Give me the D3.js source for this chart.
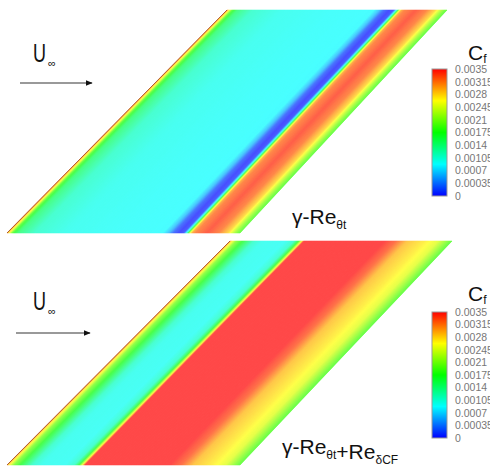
<!DOCTYPE html>
<html>
<head>
<meta charset="utf-8">
<script src="https://cdn.jsdelivr.net/npm/d3@7"></script>
<style>
  body { margin: 0; background: #fff; }
  svg { display: block; font-family: "Liberation Sans", Arial, sans-serif; }
</style>
</head>
<body>
<svg id="chart" width="490" height="466"></svg>
<script>
// colour legend
const cfTicks = [0.0035, 0.00315, 0.0028, 0.00245, 0.0021, 0.00175, 0.0014, 0.00105, 0.0007, 0.00035, 0];
const cfTickLabels = ["0.0035", "0.00315", "0.0028", "0.00245", "0.0021", "0.00175", "0.0014", "0.00105", "0.0007", "0.00035", "0"];
const mapStops = [0, 0.000875, 0.00175, 0.002625, 0.0035];
const mapColors = ["#0000ff", "#00ffff", "#00ff00", "#ffff00", "#ff0000"];

// Cf across the chord (0 = leading edge, 1 = trailing edge), gamma-Re_theta_t
const chordTop = [0, 0.01, 0.025, 0.05, 0.12, 0.25, 0.45, 0.67, 0.695, 0.715, 0.74, 0.76, 0.775, 0.785, 0.795, 0.81, 0.86, 0.91, 0.95, 0.98, 1];
const cfTop = [0.0032, 0.0027, 0.0019, 0.00145, 0.0011, 0.00095, 0.0009, 0.00087, 0.0006, 0.0002, 0.00002, 0.0001, 0.0012, 0.0024, 0.003, 0.0032, 0.0034, 0.0032, 0.0028, 0.0022, 0.0019];

// gamma-Re_theta_t + Re_deltaCF
const chordBottom = [0, 0.01, 0.03, 0.07, 0.11, 0.15, 0.25, 0.29, 0.31, 0.325, 0.335, 0.7, 0.75, 0.8, 0.88, 0.94, 1];
const cfBottom = [0.0032, 0.0027, 0.0021, 0.0016, 0.0011, 0.00095, 0.00092, 0.0011, 0.0017, 0.0026, 0.0035, 0.0035, 0.0033, 0.0029, 0.0027, 0.0025, 0.0019];

const svg = d3.select("#chart");

const colorMap = d3.scaleLinear().domain(mapStops).range(mapColors).clamp(true);
const surfaceColor = (cf) => d3.interpolateRgb(colorMap(cf), "#ffffff")(0.28);

const panels = [
  {
    chord: chordTop, cf: cfTop, gradId: "barTop",
    top: { y: 10, lead: 227, trail: 447 },
    bottom: { y: 233, lead: 7, trail: 240 },
    bar: { x: 432, top: 69, bottom: 196 },
    title: { x: 468, y: 60 },
    flow: { x: 33, y: 62, ax1: 20, ax2: 92, ay: 83 },
    label: { x: 292, y: 224, parts: [["γ-Re", false], ["θt", true]] },
  },
  {
    chord: chordBottom, cf: cfBottom, gradId: "barBottom",
    top: { y: 241, lead: 230, trail: 452 },
    bottom: { y: 465, lead: 7, trail: 240 },
    bar: { x: 432, top: 312, bottom: 438 },
    title: { x: 468, y: 301 },
    flow: { x: 33, y: 310, ax1: 16, ax2: 90, ay: 333 },
    label: { x: 282, y: 454, parts: [["γ-Re", false], ["θt", true], ["+Re", false], ["δCF", true]] },
  },
];

const defs = svg.append("defs");
defs.append("marker")
  .attr("id", "arrow")
  .attr("viewBox", "0 -5 10 10")
  .attr("refX", 9)
  .attr("refY", 0)
  .attr("markerWidth", 7)
  .attr("markerHeight", 7)
  .attr("markerUnits", "userSpaceOnUse")
  .attr("orient", "auto")
  .append("path")
  .attr("fill", "#111")
  .attr("d", "M0,-4L10,0L0,4Z");

panels.forEach(drawPanel);

function drawPanel(p) {
  const g = svg.append("g");
  const xTop = d3.scaleLinear().domain([0, 1]).range([p.top.lead, p.top.trail]);
  const xBot = d3.scaleLinear().domain([0, 1]).range([p.bottom.lead, p.bottom.trail]);
  const cfAt = d3.scaleLinear().domain(p.chord).range(p.cf);

  // thin strips across the chord, each shaded from the Cf profile
  const n = 400;
  const strips = d3.range(n).map((i) => ({ u0: i / n, u1: (i + 1) / n }));

  g.selectAll("path.strip")
    .data(strips)
    .join("path")
    .attr("class", "strip")
    .attr("d", (s) => `M${xTop(s.u0)},${p.top.y}L${xTop(s.u1)},${p.top.y}L${xBot(s.u1)},${p.bottom.y}L${xBot(s.u0)},${p.bottom.y}Z`)
    .attr("fill", (s) => surfaceColor(cfAt((s.u0 + s.u1) / 2)))
    .attr("stroke", (s) => surfaceColor(cfAt((s.u0 + s.u1) / 2)))
    .attr("stroke-width", 0.6);

  // leading edge line
  g.append("line")
    .attr("x1", xTop(0)).attr("y1", p.top.y)
    .attr("x2", xBot(0)).attr("y2", p.bottom.y)
    .attr("stroke", "#9a4a22")
    .attr("stroke-width", 0.8);

  // free stream
  g.append("text")
    .attr("transform", `translate(${p.flow.x},${p.flow.y}) scale(0.72,1)`)
    .attr("font-size", 25)
    .attr("fill", "#111")
    .text("U");
  g.append("text")
    .attr("x", p.flow.x + 15)
    .attr("y", p.flow.y + 5)
    .attr("font-size", 11)
    .attr("fill", "#111")
    .text("∞");
  g.append("line")
    .attr("x1", p.flow.ax1).attr("y1", p.flow.ay)
    .attr("x2", p.flow.ax2).attr("y2", p.flow.ay)
    .attr("stroke", "#777")
    .attr("stroke-width", 1.5)
    .attr("marker-end", "url(#arrow)");

  // model label
  const label = g.append("text")
    .attr("x", p.label.x)
    .attr("y", p.label.y)
    .attr("font-size", 21)
    .attr("fill", "#111");
  p.label.parts.forEach(([txt, sub]) => {
    label.append("tspan")
      .attr("font-size", sub ? 12 : 21)
      .attr("dy", sub ? 5 : 0)
      .text(txt);
    if (sub) label.append("tspan").attr("dy", -5).text("");
  });

  // colour bar
  const barY = d3.scaleLinear().domain([0, 0.0035]).range([p.bar.bottom, p.bar.top]);
  const grad = defs.append("linearGradient")
    .attr("id", p.gradId)
    .attr("x1", 0).attr("y1", 1).attr("x2", 0).attr("y2", 0);
  grad.selectAll("stop")
    .data(mapStops)
    .join("stop")
    .attr("offset", (d) => d / 0.0035)
    .attr("stop-color", (d) => colorMap(d));

  g.append("rect")
    .attr("x", p.bar.x)
    .attr("y", barY(0.0035))
    .attr("width", 15)
    .attr("height", barY(0) - barY(0.0035))
    .attr("fill", `url(#${p.gradId})`)
    .attr("stroke", "#999")
    .attr("stroke-width", 1);

  const axis = d3.axisRight(barY)
    .tickValues(cfTicks)
    .tickSize(0)
    .tickPadding(0)
    .tickFormat((d, i) => cfTickLabels[i]);

  g.append("g")
    .attr("transform", `translate(${p.bar.x + 23},0)`)
    .call(axis)
    .call((a) => a.select(".domain").remove())
    .call((a) => a.selectAll("text")
      .attr("font-family", "Liberation Sans, Arial, sans-serif")
      .attr("font-size", 10.5)
      .attr("fill", "#777"));

  const title = g.append("text")
    .attr("x", p.title.x)
    .attr("y", p.title.y)
    .attr("font-size", 21)
    .attr("fill", "#111");
  title.append("tspan").text("C");
  title.append("tspan").attr("font-size", 12).attr("dy", 3).text("f");
}
</script>
</body>
</html>
